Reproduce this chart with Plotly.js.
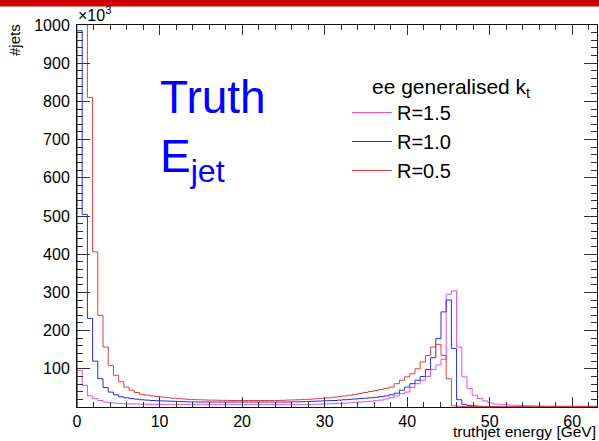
<!DOCTYPE html>
<html>
<head>
<meta charset="utf-8">
<script src="https://cdn.plot.ly/plotly-3.0.1.min.js"></script>
<style>
html,body{margin:0;padding:0;background:#fff;}
#chart{width:599px;height:441px;}
</style>
</head>
<body>
<div id="chart"></div>
<script>
// Histogram binning (GeV)
const binLow = 0;
const binHigh = 63;
const nBins = 100;

// Bin contents in units of 10^3 jets
const countsR15 = [
  96, 57, 29, 22, 17, 13, 11, 10, 9, 8.5,
  8, 8, 7.5, 7.5, 7, 7, 7, 7, 7, 7,
  7, 7, 7, 7, 7, 7, 7, 7, 7, 7,
  7, 7, 7, 7, 7, 7, 7, 7, 7, 7,
  7, 7, 7, 7, 7, 7, 7.5, 8, 8.5, 9,
  9.5, 10, 11, 12, 13, 14, 15, 16.5, 18, 21,
  24.5, 29, 35, 39, 51, 61, 70, 80, 98, 110,
  125, 295, 304, 157, 79, 48, 31, 22, 16, 11,
  8, 7, 6, 5, 4.5, 4, 3.5, 3, 2.5, 2.5,
  2, 2, 2, 2, 2, 2, 2, 2, 2, 2
];
const countsR10 = [
  985, 504, 232, 120, 74, 51, 39, 32, 27, 24,
  22, 20.5, 19, 18, 17, 16.5, 16, 15.5, 15, 14.5,
  14, 13.5, 13.5, 13, 13, 13, 13, 13, 13, 13,
  13, 13, 13, 13, 13, 13, 13, 13, 13, 13,
  13, 13.5, 13.5, 14, 14.5, 15, 15.5, 16, 16.5, 17,
  18, 19, 20, 21, 22, 23, 24, 25.5, 27, 29,
  32, 36, 44, 52, 61, 70, 80, 98, 129, 179,
  249, 280, 153, 19, 7, 4, 3, 2, 1.5, 1,
  0.5, 0.5, 0.5, 0.5, 0.5, 0.5, 0.5, 0.5, 0.5, 0.5,
  0.5, 0.5, 0.5, 0.5, 0.5, 0.5, 0.5, 0.5, 0.5, 0.5
];
const countsR05 = [
  1400, 1100, 810, 406, 240, 157, 109, 83, 66, 52,
  44, 38, 33, 31, 29, 27.5, 26, 24.5, 23, 22,
  21, 20, 19.5, 19, 18.5, 18, 18, 17.5, 17.5, 17,
  17, 17, 17, 17, 17, 17, 17, 17, 17, 17.5,
  18, 18.5, 19, 19.5, 20, 21, 22, 23, 24, 25.5,
  27, 29, 31, 33, 35.5, 38, 40.5, 43, 46, 49,
  52, 61, 70, 79, 87, 100, 118, 135, 157, 164,
  135, 74, 3, 2, 1.5, 1, 1, 1, 1, 1,
  1, 1, 1, 1, 1, 1, 1, 1, 1, 1,
  1, 1, 1, 1, 1, 1, 1, 1, 1, 1
];

const seriesNames = ['R=1.5', 'R=1.0', 'R=0.5'];
const seriesColors = ['#e050e0', '#2030e0', '#e04040'];
const xTickVals = [0, 10, 20, 30, 40, 50, 60];
const yTickVals = [100, 200, 300, 400, 500, 600, 700, 800, 900, 1000];

const binWidth = (binHigh - binLow) / nBins;
function stepTrace(counts, name, color) {
  const xs = [binLow];
  const ys = [0];
  for (let i = 0; i < counts.length; i++) {
    xs.push(binLow + i * binWidth);
    ys.push(counts[i]);
  }
  xs.push(binLow + counts.length * binWidth);
  ys.push(counts[counts.length - 1]);
  return {
    type: 'scatter', mode: 'lines', name: name,
    x: xs, y: ys,
    line: {shape: 'hv', color: color, width: 1},
    hoverinfo: 'skip'
  };
}

const data = [
  stepTrace(countsR15, seriesNames[0], seriesColors[0]),
  stepTrace(countsR10, seriesNames[1], seriesColors[1]),
  stepTrace(countsR05, seriesNames[2], seriesColors[2])
];

const FONT = 'Liberation Sans, Arial, Helvetica, sans-serif';
const W = 599, H = 441;
const M = {l: 77, r: 2, t: 25, b: 34};
const PW = W - M.l - M.r, PH = H - M.t - M.b;
const px = x => (x - M.l) / PW;
const py = y => (H - M.b - y) / PH;

const layout = {
  width: W, height: H,
  margin: M,
  paper_bgcolor: '#ffffff',
  plot_bgcolor: '#ffffff',
  font: {family: FONT, color: '#000'},
  showlegend: true,
  legend: {
    x: px(347), y: py(93), xanchor: 'left', yanchor: 'top',
    bgcolor: 'rgba(0,0,0,0)', borderwidth: 0,
    font: {family: FONT, size: 20, color: '#000'},
    traceorder: 'normal', itemwidth: 40
  },
  xaxis: {
    range: [binLow, binHigh],
    tickvals: xTickVals,
    ticktext: xTickVals.map(String),
    ticks: 'inside', ticklen: 10, tickwidth: 1, tickcolor: '#333',
    minor: {dtick: 2, tick0: 0, ticks: 'inside', ticklen: 5, tickwidth: 1, tickcolor: '#333', showgrid: false},
    showline: true, linecolor: '#111', linewidth: 1, mirror: 'allticks',
    showgrid: false, zeroline: false,
    tickfont: {family: FONT, size: 16, color: '#000'}
  },
  yaxis: {
    range: [0, 1000],
    tickvals: yTickVals,
    ticktext: yTickVals.map(String),
    ticks: 'inside', ticklen: 13, tickwidth: 1, tickcolor: '#333',
    minor: {dtick: 20, tick0: 0, ticks: 'inside', ticklen: 6, tickwidth: 1, tickcolor: '#333', showgrid: false},
    showline: true, linecolor: '#111', linewidth: 1, mirror: 'allticks',
    showgrid: false, zeroline: false,
    ticklabelstandoff: 3,
    tickfont: {family: FONT, size: 16, color: '#000'}
  },
  shapes: [
    {type: 'rect', xref: 'paper', yref: 'paper', x0: px(0), x1: px(599), y0: py(6.5), y1: py(0),
     fillcolor: '#cc0000', line: {width: 0}, layer: 'above'}
  ],
  annotations: [
    {text: 'truthjet energy [GeV]', xref: 'paper', yref: 'paper', x: px(597), y: py(431.5),
     xanchor: 'right', yanchor: 'middle', showarrow: false, borderpad: 0,
     font: {family: FONT, size: 15.5, color: '#000'}},
    {text: '#jets', xref: 'paper', yref: 'paper', x: px(15), y: py(22), textangle: -90,
     xanchor: 'center', yanchor: 'top', showarrow: false, font: {family: FONT, size: 15, color: '#000'}},
    {text: '×10<sup>3</sup>', xref: 'paper', yref: 'paper', x: px(76), y: py(14),
     xanchor: 'left', yanchor: 'middle', showarrow: false, font: {family: FONT, size: 16, color: '#000'}},
    {text: 'Truth', xref: 'paper', yref: 'paper', x: px(158), y: py(97),
     xanchor: 'left', yanchor: 'middle', showarrow: false, font: {family: FONT, size: 46, color: '#0000ff'}},
    {text: 'E<sub>jet</sub>', xref: 'paper', yref: 'paper', x: px(158), y: py(160),
     xanchor: 'left', yanchor: 'middle', showarrow: false, font: {family: FONT, size: 46, color: '#0000ff'}},
    {text: 'ee generalised k<sub>t</sub>', xref: 'paper', yref: 'paper', x: px(370), y: py(88),
     xanchor: 'left', yanchor: 'middle', showarrow: false, font: {family: FONT, size: 21, color: '#000'}}
  ]
};

Plotly.newPlot('chart', data, layout, {displayModeBar: false, staticPlot: true});
</script>
</body>
</html>
